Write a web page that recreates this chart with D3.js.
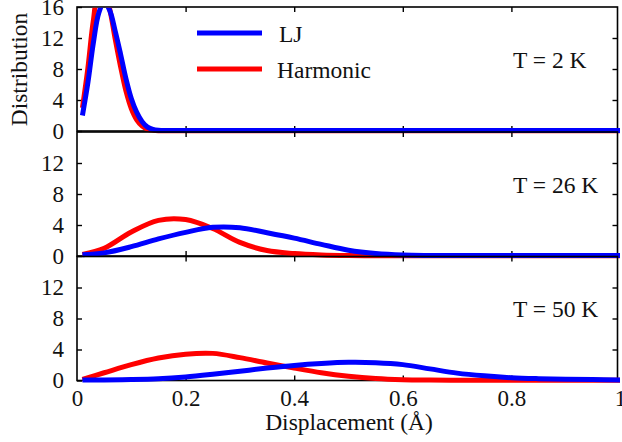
<!DOCTYPE html>
<html><head><meta charset="utf-8">
<script src="https://cdn.jsdelivr.net/npm/d3@7"></script>
<style>
body{margin:0;background:#fff}
svg{display:block}
text{font-family:"Liberation Serif","Times New Roman","DejaVu Serif",serif;fill:#111}
</style>
</head><body><svg id="c" width="622" height="442"></svg>
<script>
// ---- data ----
const xLowT = [0.01,0.02,0.03,0.04,0.05,0.06,0.07,0.08,0.09,0.10,0.11,0.12,0.13,0.14,0.15,0.2,0.3,0.4,0.5,0.6,0.7,0.8,0.9,1.0];
const lj2K   = [2.0,6.2,11.3,15.2,16.6,15.6,13.0,10.0,6.8,4.2,2.4,1.2,0.5,0.2,0.1,0.06,0.06,0.06,0.06,0.06,0.06,0.06,0.06,0.06];
const harm2K = [3.0,8.1,14.2,17.9,18.0,15.8,12.0,8.4,5.2,2.9,1.45,0.65,0.25,0.1,0.04,0.02,0.02,0.02,0.02,0.02,0.02,0.02,0.02,0.02];

const xHighT = [0.01,0.05,0.1,0.15,0.2,0.25,0.3,0.35,0.4,0.45,0.5,0.55,0.6,0.65,0.7,0.75,0.8,0.85,0.9,0.95,1.0];
const lj26K   = [0.15,0.4,1.2,2.2,3.05,3.7,3.65,3.0,2.3,1.5,0.75,0.32,0.12,0.07,0.06,0.06,0.06,0.06,0.06,0.06,0.06];
const harm26K = [0.2,1.0,3.1,4.6,4.7,3.55,1.75,0.7,0.32,0.14,0.06,0.03,0.02,0.02,0.02,0.02,0.02,0.02,0.02,0.02,0.02];
const lj50K   = [0.05,0.08,0.12,0.22,0.45,0.8,1.2,1.6,1.95,2.2,2.35,2.3,2.05,1.5,0.95,0.6,0.36,0.24,0.17,0.12,0.08];
const harm50K = [0.15,1.0,2.05,2.9,3.4,3.5,2.95,2.25,1.6,1.0,0.55,0.25,0.1,0.05,0.03,0.02,0.02,0.02,0.02,0.02,0.02];

const tempLabels = ["T = 2 K","T = 26 K","T = 50 K"];
const seriesNames = ["LJ","Harmonic"];
const seriesColors = ["#0000ff","#ff0000"];
const yTicksFirst = [0,4,8,12,16];
const yTicksOther = [0,4,8,12];
const xTickLabels = [0,0.2,0.4,0.6,0.8,1];
const xMinorTicks = [0.2,0.4,0.6,0.8];

// ---- layout ----
const FONT = "'Liberation Serif','Times New Roman','DejaVu Serif',serif";
const svg = d3.select("#c");
const left = 77, right = 620, frameRight = 617.5;
const panelTops = [7,132,256.5], ph = 124;
const x = d3.scaleLinear().domain([0,1]).range([left,right]);

const panels = [
  {xs:xLowT, lj:lj2K, harm:harm2K, ticks:yTicksFirst},
  {xs:xHighT, lj:lj26K, harm:harm26K, ticks:yTicksOther},
  {xs:xHighT, lj:lj50K, harm:harm50K, ticks:yTicksOther}
];

const defs = svg.append("defs");

panels.forEach((p,i)=>{
  const top = panelTops[i];
  const y = d3.scaleLinear().domain([0,16]).range([top+ph, top]);
  const g = svg.append("g");

  g.append("rect").attr("x",left).attr("y",top).attr("width",frameRight-left).attr("height",ph)
    .attr("fill","none").attr("stroke","#000").attr("stroke-width",1.6);

  const yl = g.append("g").attr("transform",`translate(${left},0)`)
    .call(d3.axisLeft(y).tickValues(p.ticks).tickSize(-5).tickPadding(13).tickFormat(d3.format("d")));
  const yr = g.append("g").attr("transform",`translate(${frameRight},0)`)
    .call(d3.axisRight(y).tickValues([4,8,12]).tickSize(-5).tickFormat(""));
  const xt = g.append("g").attr("transform",`translate(0,${top})`)
    .call(d3.axisTop(x).tickValues(xMinorTicks).tickSize(-5).tickFormat(""));
  const xb = g.append("g").attr("transform",`translate(0,${top+ph})`)
    .call(d3.axisBottom(x).tickValues(i===2?xTickLabels:xMinorTicks).tickSize(-5).tickPadding(9)
      .tickFormat(i===2?(d=>d===0||d===1?String(d):d3.format(".1f")(d)):""));
  [yl,yr,xt,xb].forEach(a=>{
    a.attr("font-family",FONT);
    a.select(".domain").remove();
    a.selectAll("line").attr("stroke","#000").attr("stroke-width",1.4);
    a.selectAll("text").attr("font-size",23).attr("fill","#111").style("font-family",FONT);
  });
  if(i===2) xb.selectAll(".tick").filter(d=>d===0||d===1).select("line").remove();

  const cid = "clip"+i;
  defs.append("clipPath").attr("id",cid).append("rect")
    .attr("x",0).attr("y",top+0.8).attr("width",622).attr("height",ph+10);

  const line = d3.line().x((d,k)=>x(p.xs[k])).y(d=>y(d)).curve(d3.curveCatmullRom.alpha(0.5));
  const lg = g.append("g").attr("clip-path",`url(#${cid})`);
  lg.append("path").attr("d",line(p.harm)).attr("fill","none").attr("stroke",seriesColors[1]).attr("stroke-width",5);
  lg.append("path").attr("d",line(p.lj)).attr("fill","none").attr("stroke",seriesColors[0]).attr("stroke-width",5);

  g.append("text").attr("x",513).attr("y",top+60.5).attr("font-size",23.5).text(tempLabels[i]);
});

// legend
const legY = [33,69];
seriesNames.forEach((n,k)=>{
  svg.append("line").attr("x1",197).attr("x2",262).attr("y1",legY[k]).attr("y2",legY[k])
    .attr("stroke",seriesColors[k]).attr("stroke-width",5);
  svg.append("text").attr("x",k===0?279:277).attr("y",legY[k]+8.5).attr("font-size",23.5).text(n);
});

// axis titles
svg.append("text").attr("x",349).attr("y",430).attr("text-anchor","middle").attr("font-size",23.5)
  .text("Displacement (Å)");
svg.append("text").attr("transform","translate(27,69.5) rotate(-90)").attr("text-anchor","middle")
  .attr("font-size",23.5).text("Distribution");
</script>
</body></html>
